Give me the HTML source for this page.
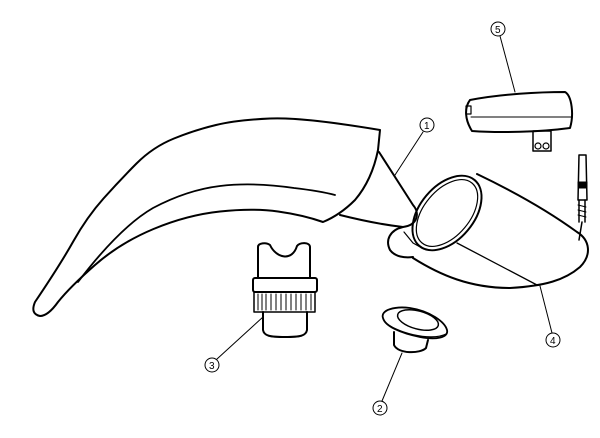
<!DOCTYPE html>
<html><head><style>
html,body{margin:0;padding:0;background:#fff;width:600px;height:438px;overflow:hidden}
svg{display:block}
text{font-family:"Liberation Sans",sans-serif;font-size:10px;fill:#000}
</style></head><body>
<svg width="600" height="438" viewBox="0 0 600 438" fill="none" stroke="#000" stroke-width="2" stroke-linecap="round" stroke-linejoin="round">
<!-- handle -->
<path d="M35,302 Q60,265 73.5,241 Q87,217 103.5,198.5 Q120,180 136.5,163.5 Q153,147 174,138.5 Q195,130 216,125 Q237,120 270,118.5 Q303,117 380,130 L378,150 Q372,180 355,200 Q340,215 323,222 Q303,215 278,211.5 Q253,208 220,211.5 Q187,215 153.5,229 Q120,243 95,265 Q70,287 58,302 Q48,316 40,316 Q30,314 35,302 Z"/>
<path d="M78,282 Q120,227 153,208 Q187,190 220,186 Q253,182 294,188 Q320,191 335,195" stroke-width="1.8"/>
<path d="M379,152 L413,205 C420,213 418,225 403,227 C385,225 360,220 340,215"/>
<!-- head 4 -->
<path d="M477,174 C500,185 540,205 577,232 C590,240 592,255 580,267 C565,280 545,286 510,288 C470,288 440,275 413,258"/>
<path d="M403,227 C390,230 385,240 390,250 C395,257 405,258 413,257"/>
<ellipse cx="447" cy="213" rx="27" ry="43" transform="rotate(40 447 213)"/>
<ellipse cx="447" cy="213" rx="23" ry="39" transform="rotate(40 447 213)" stroke-width="1.2"/>
<path d="M404,232 L413,243 L422,248" stroke-width="1.2"/>
<path d="M457,243 L537,285" stroke-width="1.3"/>
<!-- plug -->
<path d="M579,155 L586,155 L587,200 L578,200 Z" stroke-width="1.5"/>
<rect x="578" y="182" width="9" height="6" fill="#000" stroke-width="1"/>
<path d="M579,200 L579,222 M585,200 L585,222 M582,222 L579,240" stroke-width="1.5"/>
<path d="M578,205 L586,207 M578,210 L586,212 M578,215 L586,217" stroke-width="1"/>
<!-- adapter 5 -->
<path d="M470,100 C500,94 540,92 565,92 C572,96 574,115 570,128 C540,132 500,133 472,131 C465,120 464,108 470,100 Z"/>
<rect x="466" y="106" width="5" height="8" stroke-width="1.2"/>
<path d="M471,117 L572,117" stroke-width="1"/>
<rect x="533" y="131" width="18" height="20" stroke-width="1.5"/>
<circle cx="538" cy="146" r="3" stroke-width="1.2"/><circle cx="546" cy="146" r="3" stroke-width="1.2"/>
<!-- brush 3 -->
<path d="M258,247 C258,243 266,242 270,245 C276,258 292,262 297,246 C300,242 310,242 310,247 L310,278 L258,278 Z"/>
<rect x="253" y="278" width="64" height="14" rx="2"/>
<rect x="254" y="292" width="61" height="20" stroke-width="1.5"/>
<path d="M258,294 L258,310 M262,294 L262,310 M266,294 L266,310 M271,294 L271,310 M276,294 L276,310 M281,294 L281,310 M286,294 L286,310 M291,294 L291,310 M296,294 L296,310 M301,294 L301,310 M306,294 L306,310 M311,294 L311,310" stroke-width="1"/>
<path d="M263,312 L263,330 C264,336 270,337 285,337 C300,337 306,336 307,330 L307,312"/>
<!-- part 2 -->
<path d="M383,318 C380,310 395,306 410,308 C430,311 445,322 447,330 C449,338 435,340 420,337 C400,333 385,326 383,318 Z" stroke-width="1.8"/>
<path d="M385,322 C395,332 430,342 446,334" stroke-width="1.2"/>
<ellipse cx="418" cy="320" rx="21" ry="9" transform="rotate(15 418 320)" stroke-width="1.5"/>
<path d="M394,332 L394,345 C398,354 420,354 426,348 L428,340"/>
<!-- leaders -->
<g stroke-width="1">
<circle cx="427" cy="125" r="7"/><path d="M423,132 L395,175"/>
<circle cx="498" cy="29" r="7"/><path d="M500,36 L515,92"/>
<circle cx="212" cy="365" r="7"/><path d="M217,359 L263,317"/>
<circle cx="380" cy="408" r="7"/><path d="M382,401 L402,353"/>
<circle cx="553" cy="340" r="7"/><path d="M552,333 L540,286"/>
</g>
<g stroke="none">
<text x="424" y="129">1</text><text x="495" y="33">5</text><text x="209" y="369">3</text><text x="377" y="412">2</text><text x="550" y="344">4</text>
</g>
</svg>
</body></html>
